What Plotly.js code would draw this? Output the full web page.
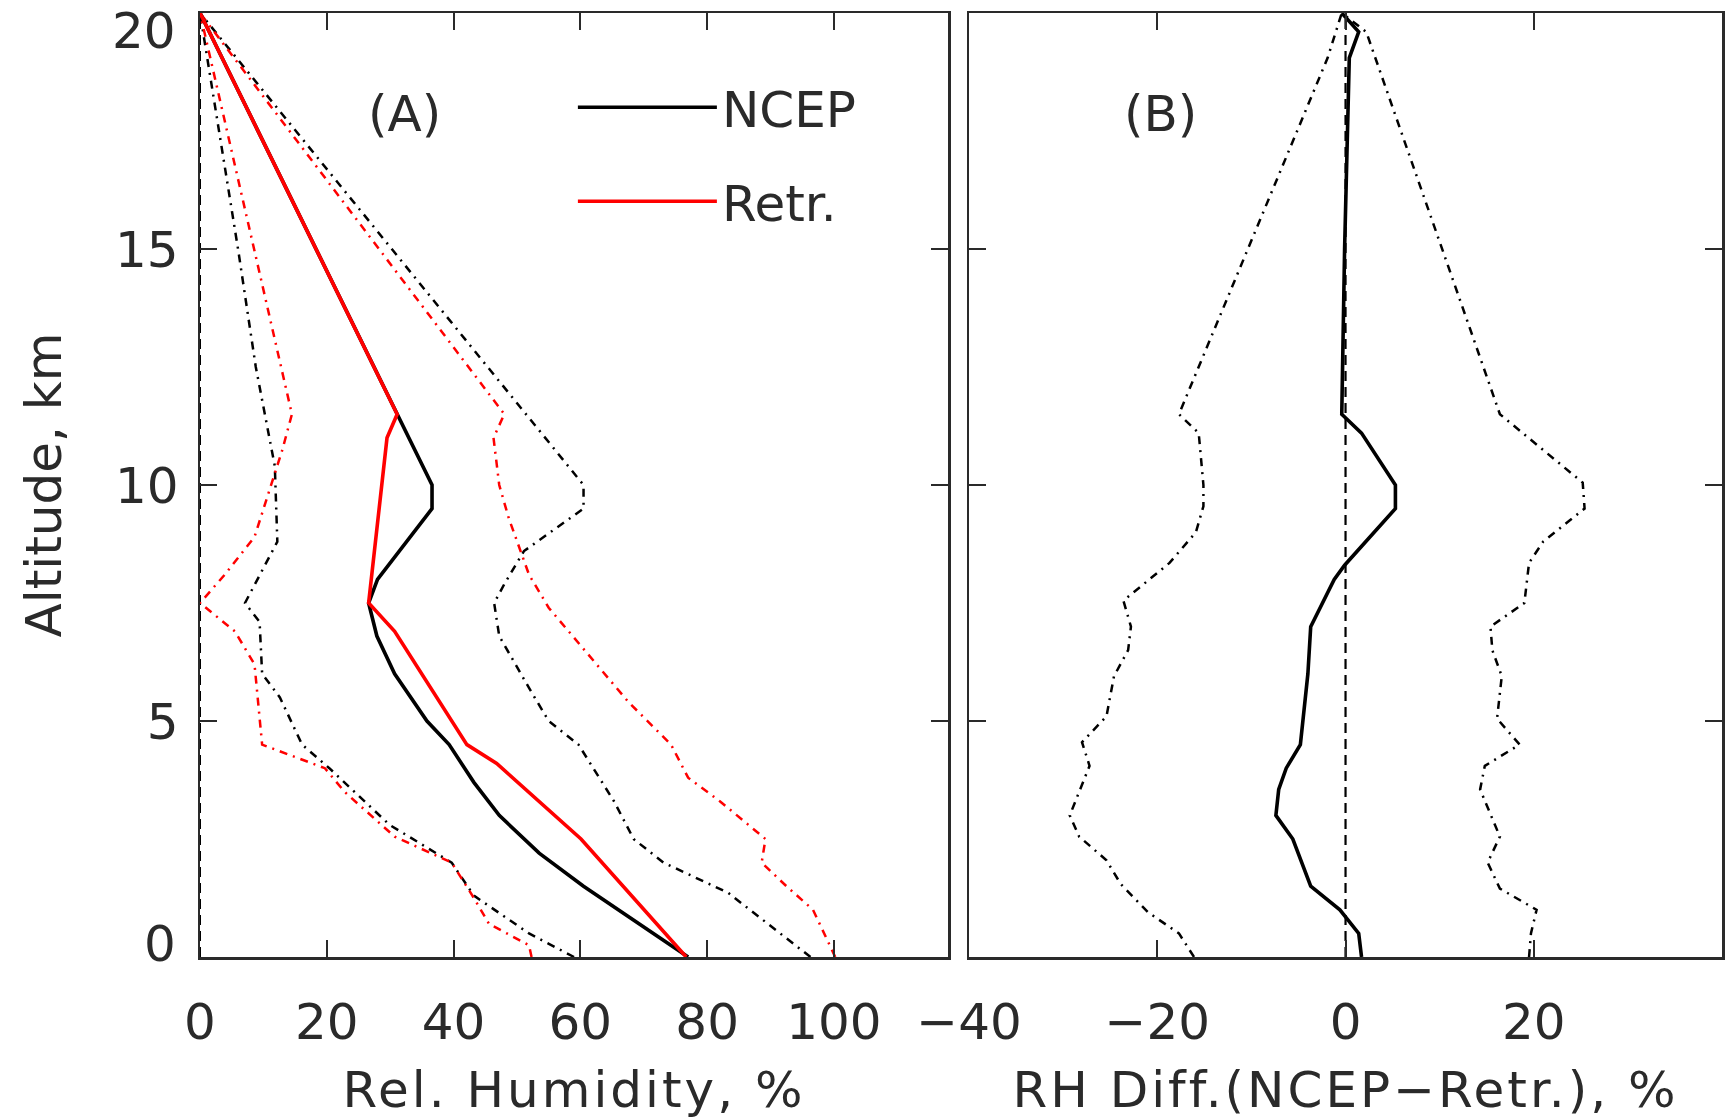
<!DOCTYPE html>
<html>
<head>
<meta charset="utf-8">
<script src="https://cdn.plot.ly/plotly-3.0.1.min.js"></script>
<style>
html,body{margin:0;padding:0;background:#fff;}
#chart{width:1725px;height:1119px;}
#chart .xtitle, #chart .x2title{letter-spacing:3px;}
</style>
</head>
<body>
<div id="chart"></div>
<script>
// ---------- Panel A: relative humidity profiles ----------
const ncepMeanAlt = [0, 1.0, 1.5, 2.2, 3.0, 3.7, 4.5, 5.0, 5.4, 6.0, 6.8, 7.5, 8.0, 9.5, 10.0, 11.5, 20];
const ncepMeanRH  = [77.0, 66.0, 60.5, 53.5, 47.2, 43.2, 39.3, 35.8, 33.8, 30.7, 27.9, 26.6, 28.0, 36.6, 36.6, 31.1, 0];

const retrMeanAlt = [0, 2.5, 4.1, 4.5, 6.9, 7.5, 11.0, 11.5, 20];
const retrMeanRH  = [76.7, 60.1, 46.8, 42.1, 30.7, 26.6, 29.5, 31.1, 0];

const ncepUpAlt = [0, 1.36, 2.0, 2.5, 3.3, 4.5, 5.0, 5.7, 6.8, 7.5, 7.9, 8.6, 9.5, 10.0, 20];
const ncepUpRH  = [96.3, 83.3, 73.1, 68.4, 65.3, 59.7, 55.0, 51.9, 47.2, 46.4, 48.0, 51.1, 60.5, 60.5, 0];

const ncepLoAlt = [0, 0.5, 1.3, 2.0, 2.8, 4.0, 4.5, 5.5, 6.0, 7.1, 7.5, 8.8, 10.4, 12.5, 15.0, 17.5, 20];
const ncepLoRH  = [59.0, 51.9, 43.2, 39.7, 29.9, 20.4, 16.1, 12.6, 9.8, 9.4, 7.1, 12.2, 11.8, 8.8, 6.0, 3.0, 0];

const retrUpAlt = [0, 0.5, 1.0, 1.5, 2.0, 2.5, 3.3, 3.8, 4.5, 5.4, 6.4, 7.4, 8.1, 9.3, 10.0, 11.0, 11.5, 20];
const retrUpRH  = [100.2, 98.5, 96.7, 92.5, 88.6, 89.2, 82.0, 77.0, 74.3, 67.6, 61.3, 55.0, 51.9, 48.7, 47.2, 46.3, 48.0, 0];

const retrLoAlt = [0, 0.25, 0.7, 1.25, 2.0, 2.55, 3.5, 4.0, 4.5, 5.7, 6.2, 6.9, 7.5, 8.1, 8.9, 10.75, 11.5, 20];
const retrLoRH  = [52.3, 51.9, 45.6, 43.2, 39.7, 30.7, 22.8, 19.7, 9.8, 9.0, 8.6, 5.5, 0, 3.9, 8.6, 13.0, 14.5, 0];

// ---------- Panel B: RH difference (NCEP - Retr.) ----------
const diffMeanAlt = [0, 0.5, 1.0, 1.5, 2.5, 3.0, 3.55, 4.0, 4.5, 6.0, 7.0, 8.0, 8.3, 9.5, 10.0, 11.1, 11.5, 15.0, 19.05, 19.6, 20];
const diffMeanRH  = [1.7, 1.4, -0.6, -3.7, -5.6, -7.4, -7.1, -6.3, -4.8, -4.0, -3.7, -1.2, -0.1, 5.3, 5.3, 1.7, -0.4, -0.1, 0.4, 1.4, -0.4];

const diffLoAlt = [0, 0.5, 0.95, 1.55, 2.05, 2.55, 3.0, 4.05, 4.55, 5.1, 5.95, 6.5, 7.0, 7.55, 8.35, 9.0, 9.55, 10.0, 11.1, 11.5, 19.05, 20];
const diffLoRH  = [-16.1, -17.7, -21.0, -23.9, -25.4, -28.3, -29.3, -27.2, -28.0, -25.4, -24.6, -23.1, -22.8, -23.6, -18.7, -15.9, -15.1, -15.1, -15.6, -17.7, -1.9, -0.4];

const diffUpAlt = [0, 0.5, 1.0, 1.45, 2.0, 2.55, 3.55, 4.05, 4.5, 5.05, 5.95, 6.5, 7.0, 7.5, 8.35, 8.8, 9.5, 10.05, 11.5, 19.6, 20];
const diffUpRH  = [19.5, 19.7, 20.3, 16.4, 15.1, 16.4, 14.3, 14.8, 18.5, 16.1, 16.6, 15.6, 15.4, 19.0, 19.5, 21.0, 25.4, 25.2, 16.4, 2.2, -0.4];

const zeroAlt = [0, 20];
const zeroRH  = [0, 0];

const xTicksA = [0, 20, 40, 60, 80, 100];
const xTicksB = [-40, -20, 0, 20];
const yTicks  = [0, 5, 10, 15, 20];
const yTickText = ['', '5', '10', '15', ''];

// ---------- styling ----------
const FONT = 'DejaVu Sans';
const TXT = '#2a2a2a';
const FS = 50;
const DASHDOT = '8px,6px,2px,6px';
const DASH = '10px,6px';

function tr(x, y, color, width, dash, xa, ya, name, legend) {
  return {
    type: 'scatter', mode: 'lines', x: x, y: y,
    xaxis: xa, yaxis: ya, name: name || '',
    showlegend: !!legend, legendgroup: name || undefined,
    line: {color: color, width: width, dash: dash || 'solid'},
    hoverinfo: 'skip'
  };
}

const data = [
  tr(zeroRH, zeroAlt, '#000', 2, DASH, 'x', 'y'),
  tr(ncepUpRH, ncepUpAlt, '#000', 2.5, DASHDOT, 'x', 'y'),
  tr(ncepLoRH, ncepLoAlt, '#000', 2.5, DASHDOT, 'x', 'y'),
  tr(retrUpRH, retrUpAlt, '#ff0000', 2.5, DASHDOT, 'x', 'y'),
  tr(retrLoRH, retrLoAlt, '#ff0000', 2.5, DASHDOT, 'x', 'y'),
  tr(ncepMeanRH, ncepMeanAlt, '#000', 3.6, 'solid', 'x', 'y', 'NCEP', true),
  tr(retrMeanRH, retrMeanAlt, '#ff0000', 3.6, 'solid', 'x', 'y', 'Retr.', true),
  tr(zeroRH, zeroAlt, '#000', 2.2, DASH, 'x2', 'y2'),
  tr(diffLoRH, diffLoAlt, '#000', 2.5, DASHDOT, 'x2', 'y2'),
  tr(diffUpRH, diffUpAlt, '#000', 2.5, DASHDOT, 'x2', 'y2'),
  tr(diffMeanRH, diffMeanAlt, '#000', 3.6, 'solid', 'x2', 'y2')
];

const axisCommon = {
  showgrid: false, zeroline: false, showline: true, mirror: 'ticks',
  linecolor: TXT, linewidth: 2.5,
  ticks: 'inside', ticklen: 17, tickwidth: 2, tickcolor: TXT,
  tickfont: {family: FONT, size: FS, color: TXT},
  automargin: false, fixedrange: true
};

const layout = {
  width: 1725, height: 1119,
  paper_bgcolor: '#fff', plot_bgcolor: '#fff',
  margin: {l: 200, r: 3, t: 13, b: 162, pad: 0},
  font: {family: FONT, size: FS, color: TXT},
  showlegend: true,
  legend: {
    x: 0.245, y: 0.9414, xanchor: 'left', yanchor: 'top',
    bgcolor: 'rgba(0,0,0,0)', borderwidth: 0,
    font: {family: FONT, size: FS, color: TXT},
    itemwidth: 139, tracegroupgap: 26, itemclick: false, itemdoubleclick: false
  },
  xaxis: Object.assign({}, axisCommon, {
    domain: [0, 0.4915], range: [0, 118], tickvals: xTicksA, anchor: 'y',
    ticklabelstandoff: 19,
    title: {text: 'Rel. Humidity, %', font: {family: FONT, size: FS, color: TXT}, standoff: 28}
  }),
  xaxis2: Object.assign({}, axisCommon, {
    domain: [0.5053, 1], range: [-40, 40], tickvals: xTicksB, anchor: 'y2',
    ticklabelstandoff: 19,
    title: {text: 'RH Diff.(NCEP\u2212Retr.), %', font: {family: FONT, size: FS, color: TXT}, standoff: 28}
  }),
  yaxis: Object.assign({}, axisCommon, {
    domain: [0, 1], range: [0, 20], tickvals: yTicks, ticktext: yTickText, anchor: 'x',
    ticklabelstandoff: 9,
    title: {text: 'Altitude, km', font: {family: FONT, size: FS, color: TXT}, standoff: 38}
  }),
  yaxis2: Object.assign({}, axisCommon, {
    domain: [0, 1], range: [0, 20], tickvals: yTicks, anchor: 'x2', showticklabels: false
  }),
  annotations: [
    {text: '(A)', xref: 'x', yref: 'y', x: 32.2, y: 17.85, showarrow: false,
     font: {family: FONT, size: FS, color: TXT}},
    {text: '(B)', xref: 'x2', yref: 'y2', x: -19.7, y: 17.85, showarrow: false,
     font: {family: FONT, size: FS, color: TXT}},
    {text: '20', xref: 'paper', yref: 'y', x: 0, y: 20, xanchor: 'right', yanchor: 'middle',
     xshift: -22, yshift: -18, showarrow: false, font: {family: FONT, size: FS, color: TXT}},
    {text: '0', xref: 'paper', yref: 'y', x: 0, y: 0, xanchor: 'right', yanchor: 'middle',
     xshift: -22, yshift: 13, showarrow: false, font: {family: FONT, size: FS, color: TXT}}
  ]
};

Plotly.newPlot('chart', data, layout, {staticPlot: true, displayModeBar: false});
</script>
</body>
</html>
